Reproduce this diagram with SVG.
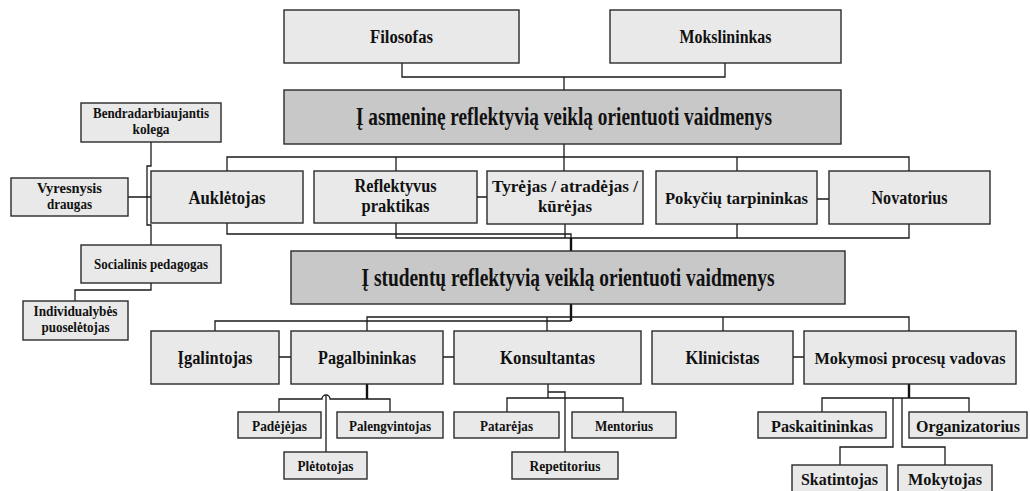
<svg xmlns="http://www.w3.org/2000/svg" width="1030" height="491" viewBox="0 0 1030 491">
  <style>
    .box { fill: #e9e9e9; stroke: #2a2a2a; stroke-width: 1.4; }
    .title { fill: #c8c8c8; stroke: #2a2a2a; stroke-width: 1.4; }
    .lbl { font-family: "Liberation Serif", "Times New Roman", serif; font-weight: bold; fill: #111; text-anchor: middle; }
    .big { font-size: 25px; }
    .md { font-size: 18.5px; }
    .mdn { font-size: 17px; }
    .sm { font-size: 15px; }
    .ln { fill: none; stroke: #1a1a1a; stroke-width: 1.3; }
    .thick { fill: none; stroke: #111; stroke-width: 2.4; }
  </style>

  <g id="connectors">
    <!-- top pair into first title -->
    <path class="ln" d="M402,63 V77 H725 V63 M564,77 V90"/>
    <!-- first title down to its role row -->
    <path class="ln" d="M564,144 V171 M227,171 V157 H909 V171 M396,157 V171 M737,157 V171"/>
    <path class="ln" d="M477,197 H487 M817,199 H829"/>
    <!-- role row down to second title -->
    <path class="ln" d="M227,223 V234 H571 V251 M396,223 V238 H909 V224 M565,224 V238 M737,224 V238"/>
    <path class="thick" d="M571,238 V251"/>
    <!-- left side branch -->
    <path class="ln" d="M151,142 V166 H147 V225 H151 V245 M128,197 H151 M151,283 V290 H75 V301"/>
    <!-- second title down to its role row -->
    <path class="thick" d="M571,304 V321"/>
    <path class="ln" d="M571,321 H215 V331 M367,331 V317 H909 V331 M547,317 V331 M723,317 V331"/>
    <path class="ln" d="M279,357 H291 M443,357 H454 M793,357 H804"/>
    <!-- Pagalbininkas subtree -->
    <path class="thick" d="M367,384 V399"/>
    <path class="ln" d="M279,412 V399 H322 A4,4 0 0 1 330,399 H390 V412 M326,396 V452"/>
    <!-- Konsultantas subtree -->
    <path class="ln" d="M548,384 V398 M548,392 H565 V452 M507,412 V398 H623 V412"/>
    <!-- Mokymosi procesų vadovas subtree -->
    <path class="thick" d="M909,384 V398"/>
    <path class="ln" d="M822,412 V398 H969 V412 M893,398 V447 H840 V465 M902,398 V447 H945 V465"/>
  </g>

  <g id="filosofas"><rect class="box" x="284" y="10" width="235" height="53"/><text class="lbl md" x="401.5" y="43" textLength="63" lengthAdjust="spacingAndGlyphs">Filosofas</text></g>
  <g id="mokslininkas"><rect class="box" x="610" y="10" width="231" height="53"/><text class="lbl md" x="725.5" y="43" textLength="92" lengthAdjust="spacingAndGlyphs">Mokslininkas</text></g>
  <g id="asmenine"><rect class="title" x="284" y="90" width="557" height="54"/><text class="lbl big" x="564" y="124.5" textLength="416" lengthAdjust="spacingAndGlyphs">Į asmeninę reflektyvią veiklą orientuoti vaidmenys</text></g>

  <g id="aukletojas"><rect class="box" x="151" y="171" width="152" height="52"/><text class="lbl md" x="227" y="203.5" textLength="77" lengthAdjust="spacingAndGlyphs">Auklėtojas</text></g>
  <g id="reflektyvus"><rect class="box" x="314" y="171" width="163" height="52"/><text class="lbl md" x="395.5" y="192" textLength="82" lengthAdjust="spacingAndGlyphs">Reflektyvus</text><text class="lbl md" x="395.5" y="211.5" textLength="68" lengthAdjust="spacingAndGlyphs">praktikas</text></g>
  <g id="tyrejas"><rect class="box" x="487" y="171" width="156" height="53"/><text class="lbl mdn" x="565" y="192" textLength="146" lengthAdjust="spacingAndGlyphs">Tyrėjas / atradėjas /</text><text class="lbl mdn" x="565" y="211.5" textLength="54" lengthAdjust="spacingAndGlyphs">kūrėjas</text></g>
  <g id="pokyciu"><rect class="box" x="656" y="171" width="161" height="53"/><text class="lbl mdn" x="736.5" y="203.5" textLength="143" lengthAdjust="spacingAndGlyphs">Pokyčių tarpininkas</text></g>
  <g id="novatorius"><rect class="box" x="829" y="171" width="161" height="53"/><text class="lbl md" x="909.5" y="203.5" textLength="76" lengthAdjust="spacingAndGlyphs">Novatorius</text></g>

  <g id="bendradarbiaujantis"><rect class="box" x="81" y="103" width="140" height="39"/><text class="lbl sm" x="151" y="118" textLength="116" lengthAdjust="spacingAndGlyphs">Bendradarbiaujantis</text><text class="lbl sm" x="151" y="134" textLength="37" lengthAdjust="spacingAndGlyphs">kolega</text></g>
  <g id="vyresnysis"><rect class="box" x="11" y="178" width="117" height="38"/><text class="lbl sm" x="69.5" y="193" textLength="65" lengthAdjust="spacingAndGlyphs">Vyresnysis</text><text class="lbl sm" x="69.5" y="209" textLength="45" lengthAdjust="spacingAndGlyphs">draugas</text></g>
  <g id="socialinis"><rect class="box" x="81" y="245" width="140" height="38"/><text class="lbl sm" x="151" y="269" textLength="114" lengthAdjust="spacingAndGlyphs">Socialinis pedagogas</text></g>
  <g id="individualybes"><rect class="box" x="23" y="301" width="105" height="39"/><text class="lbl sm" x="75.5" y="316" textLength="84" lengthAdjust="spacingAndGlyphs">Individualybės</text><text class="lbl sm" x="75.5" y="332" textLength="68" lengthAdjust="spacingAndGlyphs">puoselėtojas</text></g>

  <g id="studentu"><rect class="title" x="291" y="251" width="554" height="53"/><text class="lbl big" x="568" y="286" textLength="413" lengthAdjust="spacingAndGlyphs">Į studentų reflektyvią veiklą orientuoti vaidmenys</text></g>

  <g id="igalintojas"><rect class="box" x="151" y="331" width="128" height="53"/><text class="lbl md" x="215" y="363.5" textLength="75" lengthAdjust="spacingAndGlyphs">Įgalintojas</text></g>
  <g id="pagalbininkas"><rect class="box" x="291" y="331" width="152" height="53"/><text class="lbl md" x="367" y="363.5" textLength="98" lengthAdjust="spacingAndGlyphs">Pagalbininkas</text></g>
  <g id="konsultantas"><rect class="box" x="454" y="331" width="187" height="53"/><text class="lbl md" x="547.5" y="363.5" textLength="95" lengthAdjust="spacingAndGlyphs">Konsultantas</text></g>
  <g id="klinicistas"><rect class="box" x="652" y="331" width="141" height="53"/><text class="lbl md" x="722.5" y="363.5" textLength="74" lengthAdjust="spacingAndGlyphs">Klinicistas</text></g>
  <g id="mokymosi"><rect class="box" x="804" y="331" width="212" height="53"/><text class="lbl mdn" x="910" y="363.5" textLength="191" lengthAdjust="spacingAndGlyphs">Mokymosi procesų vadovas</text></g>

  <g id="padejejas"><rect class="box" x="238" y="412" width="83" height="26"/><text class="lbl sm" x="279.5" y="430.5" textLength="55" lengthAdjust="spacingAndGlyphs">Padėjėjas</text></g>
  <g id="palengvintojas"><rect class="box" x="337" y="412" width="106" height="26"/><text class="lbl sm" x="390" y="430.5" textLength="82" lengthAdjust="spacingAndGlyphs">Palengvintojas</text></g>
  <g id="pletotojas"><rect class="box" x="284" y="452" width="83" height="27"/><text class="lbl sm" x="325.5" y="470.5" textLength="56" lengthAdjust="spacingAndGlyphs">Plėtotojas</text></g>
  <g id="patarejas"><rect class="box" x="454" y="412" width="105" height="26"/><text class="lbl sm" x="506.5" y="430.5" textLength="53" lengthAdjust="spacingAndGlyphs">Patarėjas</text></g>
  <g id="mentorius"><rect class="box" x="572" y="412" width="104" height="26"/><text class="lbl sm" x="624" y="430.5" textLength="58" lengthAdjust="spacingAndGlyphs">Mentorius</text></g>
  <g id="repetitorius"><rect class="box" x="512" y="452" width="106" height="27"/><text class="lbl sm" x="565" y="470.5" textLength="71" lengthAdjust="spacingAndGlyphs">Repetitorius</text></g>

  <g id="paskaitininkas"><rect class="box" x="758" y="412" width="128" height="26"/><text class="lbl mdn" x="822" y="431.5" textLength="102" lengthAdjust="spacingAndGlyphs">Paskaitininkas</text></g>
  <g id="organizatorius"><rect class="box" x="909" y="412" width="118" height="26"/><text class="lbl mdn" x="968" y="431.5" textLength="104" lengthAdjust="spacingAndGlyphs">Organizatorius</text></g>
  <g id="skatintojas"><rect class="box" x="792" y="465" width="95" height="27"/><text class="lbl mdn" x="839.5" y="484.5" textLength="77" lengthAdjust="spacingAndGlyphs">Skatintojas</text></g>
  <g id="mokytojas"><rect class="box" x="898" y="465" width="94" height="27"/><text class="lbl mdn" x="945" y="484.5" textLength="74" lengthAdjust="spacingAndGlyphs">Mokytojas</text></g>
</svg>
